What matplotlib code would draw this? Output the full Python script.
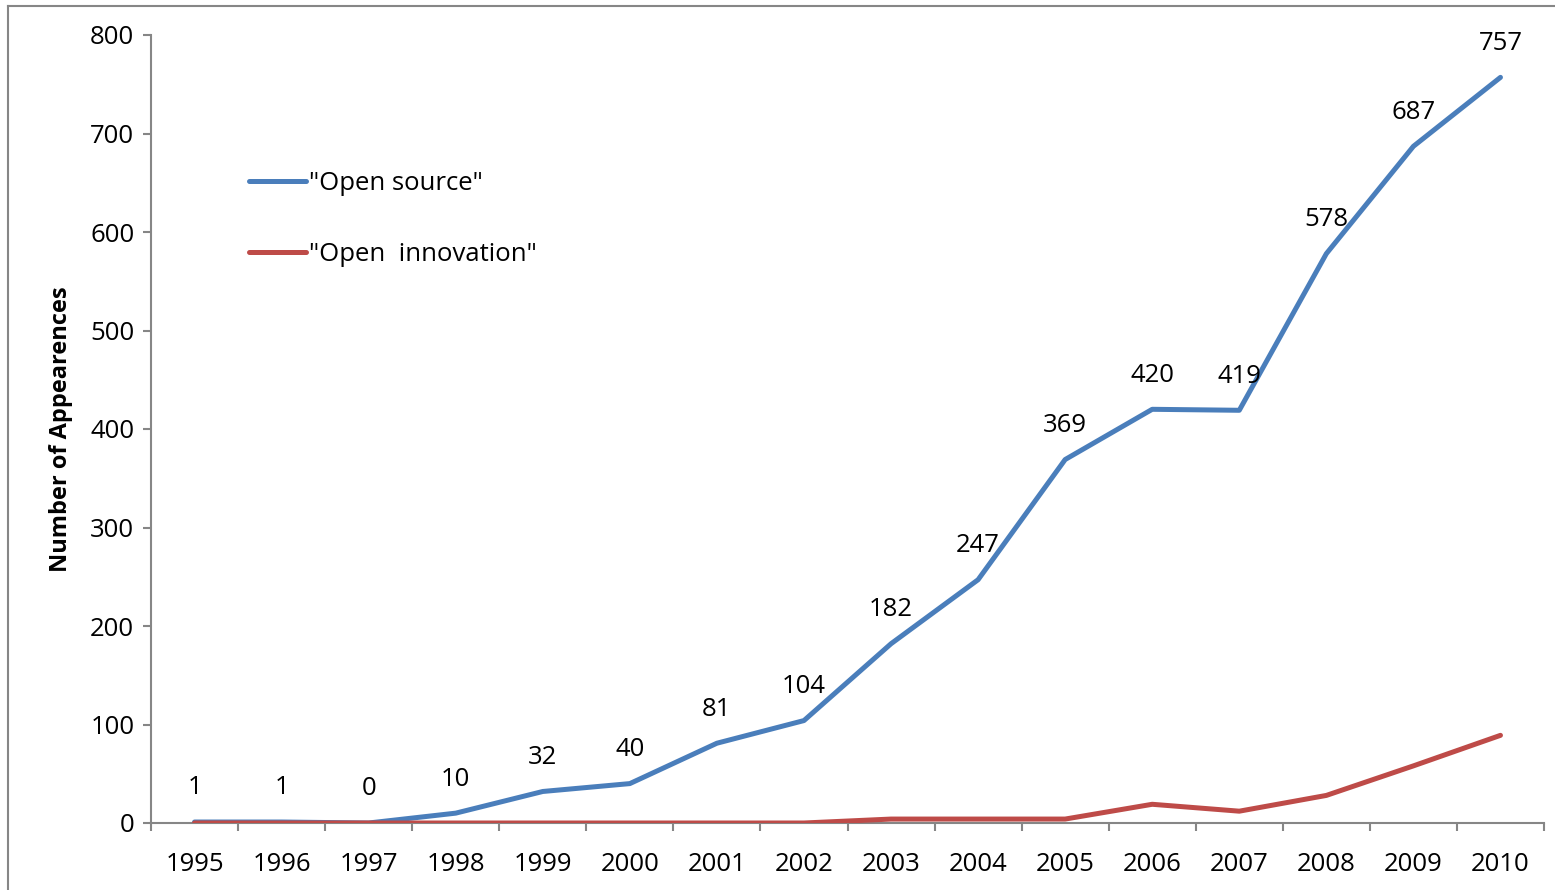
import numpy as np
import matplotlib.pyplot as plt
from matplotlib.lines import Line2D

plt.rcParams['font.family'] = ['Open Sans', 'DejaVu Sans']

years = ['1995', '1996', '1997', '1998', '1999', '2000', '2001', '2002',
         '2003', '2004', '2005', '2006', '2007', '2008', '2009', '2010']
open_source = [1, 1, 0, 10, 32, 40, 81, 104, 182, 247, 369, 420, 419, 578, 687, 757]
open_innovation = [0, 0, 0, 0, 0, 0, 0, 0, 4, 4, 4, 19, 12, 28, 58, 89]

blue = '#4A7EBB'
red = '#BE4B48'
axis_gray = '#868686'
fs = 18.5

fig = plt.figure(figsize=(15.55, 8.9), dpi=100)
ax = fig.add_axes([151 / 1555, 1 - 823 / 890, (1544 - 151) / 1555, (823 - 35) / 890])

x = np.arange(len(years))
ax.plot(x, open_source, color=blue, lw=3.6, solid_capstyle='round', label='"Open source"', zorder=3)
ax.plot(x, open_innovation, color=red, lw=3.6, solid_capstyle='round', label='"Open  innovation"', zorder=4)

# data labels above the blue line
for xi, v in zip(x, open_source):
    ax.annotate(str(v), (xi, v), xytext=(0, 24.5), textcoords='offset points',
                ha='center', va='center', fontsize=fs)

ax.set_xlim(-0.5, len(years) - 0.5)
ax.set_ylim(0, 800)
ax.set_yticks(range(0, 801, 100))
ax.set_xticks(np.arange(-0.5, len(years), 1), minor=False)
ax.set_xticklabels([])
ax.set_xticks(x, minor=True)
ax.set_xticklabels(years, minor=True)
ax.tick_params(axis='x', which='minor', length=0, labelsize=fs, pad=21)
ax.tick_params(axis='x', which='major', length=6, width=1.5, color=axis_gray, direction='out')
ax.tick_params(axis='y', length=6, width=1.5, color=axis_gray, labelsize=fs, pad=6)

for s in ['top', 'right']:
    ax.spines[s].set_visible(False)
for s in ['left', 'bottom']:
    ax.spines[s].set_color(axis_gray)
    ax.spines[s].set_linewidth(1.5)

ax.set_ylabel('Number of Appearences', fontsize=17, fontweight='bold', labelpad=12)

leg = ax.legend(loc='upper left', bbox_to_anchor=(0.063, 0.8405), frameon=False,
                fontsize=fs, handlelength=2.2, handletextpad=0.15, labelspacing=1.8,
                borderaxespad=0)

# outer chart frame (top and left edges visible)
fig.add_artist(Line2D([8 / 1555, 8 / 1555], [0, 1 - 6 / 890], transform=fig.transFigure,
                      color=axis_gray, lw=1.5))
fig.add_artist(Line2D([8 / 1555, 1], [1 - 6 / 890, 1 - 6 / 890], transform=fig.transFigure,
                      color=axis_gray, lw=1.5))

fig.savefig('out.png', dpi=100)
